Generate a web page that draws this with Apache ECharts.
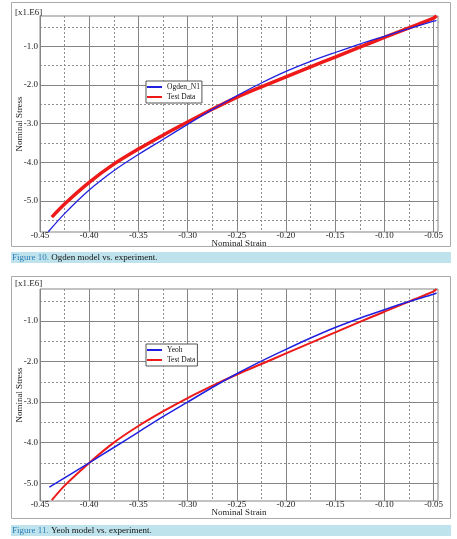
<!DOCTYPE html>
<html><head><meta charset="utf-8">
<script src="https://cdn.jsdelivr.net/npm/echarts@6/dist/echarts.min.js"></script>
<style>html,body{margin:0;padding:0;background:#fff}#c{width:457px;height:539px}</style>
</head><body><div id="c"></div>
<script>
// ---- data (stress in 1e6 units) ----
const strain1Test  = [-0.438,-0.425,-0.40,-0.375,-0.35,-0.325,-0.30,-0.275,-0.25,-0.225,-0.20,-0.175,-0.15,-0.125,-0.10,-0.075,-0.05,-0.047];
const stress1Test  = [-5.42,-5.08,-4.52,-4.05,-3.66,-3.30,-2.96,-2.63,-2.32,-2.05,-1.79,-1.53,-1.28,-1.02,-0.77,-0.52,-0.27,-0.21];
const strain1Model = [-0.4416,-0.425,-0.40,-0.375,-0.35,-0.325,-0.30,-0.275,-0.25,-0.225,-0.20,-0.175,-0.15,-0.125,-0.10,-0.075,-0.05,-0.047];
const stress1Model = [-5.80,-5.33,-4.72,-4.22,-3.80,-3.41,-3.02,-2.64,-2.28,-1.95,-1.65,-1.39,-1.16,-0.94,-0.74,-0.54,-0.35,-0.33];

const strain2Test  = [-0.438,-0.425,-0.40,-0.375,-0.35,-0.325,-0.30,-0.275,-0.25,-0.225,-0.20,-0.175,-0.15,-0.125,-0.10,-0.075,-0.05,-0.047];
const stress2Test  = [-5.42,-5.06,-4.50,-4.00,-3.59,-3.23,-2.90,-2.60,-2.32,-2.06,-1.80,-1.54,-1.28,-1.02,-0.77,-0.52,-0.27,-0.21];
const strain2Model = [-0.4405,-0.425,-0.40,-0.375,-0.35,-0.325,-0.30,-0.275,-0.25,-0.225,-0.20,-0.175,-0.15,-0.125,-0.10,-0.075,-0.05,-0.047];
const stress2Model = [-5.10,-4.87,-4.50,-4.12,-3.74,-3.36,-3.00,-2.64,-2.30,-1.99,-1.70,-1.42,-1.16,-0.93,-0.72,-0.52,-0.34,-0.31];

const xMajorTicks = [-0.45,-0.40,-0.35,-0.30,-0.25,-0.20,-0.15,-0.10,-0.05];
const xMinorTicks = [-0.425,-0.375,-0.325,-0.275,-0.225,-0.175,-0.125,-0.075];
const yMajorTicks = [-5,-4,-3,-2,-1];
const yMinorTicks = [-5.5,-4.5,-3.5,-2.5,-1.5,-0.5];

const seriesNames1 = ['Ogden_N1','Test Data'];
const seriesNames2 = ['Yeoh','Test Data'];
const captions = [['Figure 10.',' Ogden model vs. experiment.'],['Figure 11.',' Yeoh model vs. experiment.']];
const unitLabel = '[x1.E6]';
const xName = 'Nominal Strain', yName = 'Nominal Stress';

// ---- layout ----
const FONT = 'Liberation Serif';
const grids = [
  {left:40, top:16, width:398, height:216},
  {left:40, top:289, width:398, height:212}
];
const yRanges = [[-5.806,-0.215],[-5.44,-0.21]];
const xRange = [-0.45,-0.0455];

function pairs(xs, ys){ return xs.map((x,i)=>[x, ys[i]]); }

const xAxes = [], yAxes = [];
grids.forEach((g, gi) => {
  xAxes.push({
    type:'value', gridIndex:gi, min:xRange[0], max:xRange[1], position:'bottom',
    name:xName, nameLocation:'middle', nameGap:7.5, nameMoveOverlap:false,
    nameTextStyle:{fontFamily:FONT, fontSize:9, color:'#222', verticalAlign:'top'},
    axisLine:{show:false}, axisTick:{show:false, customValues:xMajorTicks},
    axisLabel:{customValues:xMajorTicks, fontFamily:FONT, fontSize:9, color:'#222', margin:-1,
      formatter:v=>v.toFixed(2)},
    splitLine:{show:true, lineStyle:{color:'#858585', width:1}}
  });
  xAxes.push({
    type:'value', gridIndex:gi, min:xRange[0], max:xRange[1], position:'top',
    axisLine:{show:false}, axisTick:{show:false, customValues:xMinorTicks},
    axisLabel:{show:false},
    splitLine:{show:true, lineStyle:{color:'#8f8f8f', width:1, type:[2,2]}}
  });
  yAxes.push({
    type:'value', gridIndex:gi, min:yRanges[gi][0], max:yRanges[gi][1], position:'left',
    name:yName, nameLocation:'middle', nameGap:16, nameMoveOverlap:false,
    nameTextStyle:{fontFamily:FONT, fontSize:9, color:'#222'},
    axisLine:{show:false}, axisTick:{show:false, customValues:yMajorTicks},
    axisLabel:{customValues:yMajorTicks, fontFamily:FONT, fontSize:9, color:'#222', margin:2,
      formatter:v=>v.toFixed(1)},
    splitLine:{show:true, lineStyle:{color:'#858585', width:1}}
  });
  yAxes.push({
    type:'value', gridIndex:gi, min:yRanges[gi][0], max:yRanges[gi][1], position:'right',
    axisLine:{show:false}, axisTick:{show:false, customValues:yMinorTicks},
    axisLabel:{show:false},
    splitLine:{show:true, lineStyle:{color:'#8f8f8f', width:1, type:[2,2]}}
  });
});

function line(name, xi, yi, data, color, width, z){
  return {type:'line', name, xAxisIndex:xi, yAxisIndex:yi, data, smooth:0.3,
    showSymbol:false, symbol:'none', clip:true, z,
    lineStyle:{color, width}, itemStyle:{color}};
}

const series = [
  line(seriesNames1[0], 0, 0, pairs(strain1Model, stress1Model), '#2020e0', 1.3, 3),
  line(seriesNames1[1], 0, 0, pairs(strain1Test, stress1Test), '#ee1a1a', 3.5, 2),
  line(seriesNames2[0], 2, 2, pairs(strain2Model, stress2Model), '#2020e0', 1.5, 3),
  line(seriesNames2[1], 2, 2, pairs(strain2Test, stress2Test), '#ee1a1a', 2, 2)
];

const legendBase = {
  orient:'vertical', itemWidth:15, itemHeight:2, itemGap:0, icon:'rect',
  padding:[1,2,1,1], backgroundColor:'#fff', borderColor:'#555', borderWidth:1,
  textStyle:{fontFamily:FONT, fontSize:7.5, color:'#111', lineHeight:10, padding:[0,0,0,0]},
  itemStyle:{borderWidth:0}, selectedMode:false
};

const frames = [[11,2,439,244],[11,276,439,242]];
const bands = [[11,252,440,11],[11,525,440,11]];

const graphic = [];
frames.forEach(f => graphic.push({type:'rect', shape:{x:f[0]+0.5,y:f[1]+0.5,width:f[2],height:f[3]},
  style:{fill:'none', stroke:'#aaaaaa', lineWidth:1}, z:-10}));
bands.forEach((b, i) => {
  graphic.push({type:'rect', shape:{x:b[0],y:b[1],width:b[2],height:b[3]}, style:{fill:'#bfe3ec'}, z:-10});
  graphic.push({type:'text', x:b[0]+1, y:b[1]+b[3]/2+0.5, z:10,
    style:{text:'{a|'+captions[i][0]+'}{b|'+captions[i][1]+'}', verticalAlign:'middle',
      rich:{a:{fontFamily:FONT, fontSize:9, fill:'#2a7cb5'}, b:{fontFamily:FONT, fontSize:9, fill:'#111'}}}});
});
[[15,13],[15,284]].forEach(p => graphic.push({type:'text', x:p[0], y:p[1], z:10,
  style:{text:unitLabel, fontFamily:FONT, fontSize:9, fill:'#222', verticalAlign:'middle'}}));

const option = {
  animation:false,
  backgroundColor:'#fff',
  grid: grids.map(g => Object.assign({show:true, borderColor:'#858585', borderWidth:1,
    backgroundColor:'transparent', containLabel:false, outerBoundsMode:'none'}, g)),
  xAxis: xAxes,
  yAxis: yAxes,
  legend: [
    Object.assign({}, legendBase, {left:146, top:81, data:seriesNames1}),
    Object.assign({}, legendBase, {left:146, top:344, data:seriesNames2})
  ],
  series,
  graphic
};
echarts.init(document.getElementById('c')).setOption(option);
</script></body></html>
